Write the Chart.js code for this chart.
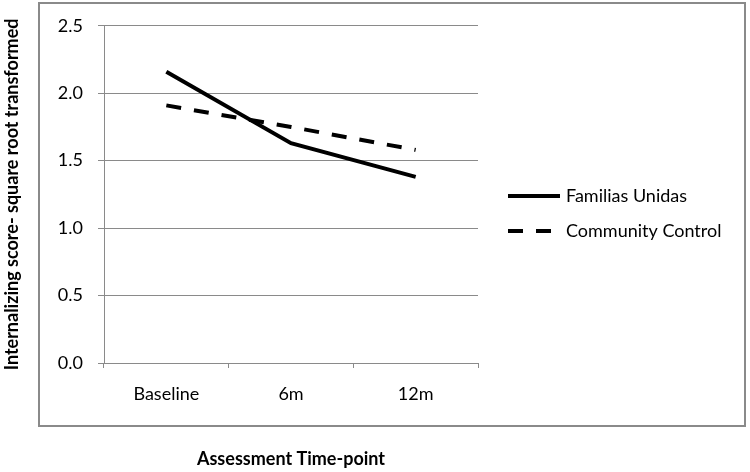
<!DOCTYPE html>
<html>
<head>
<meta charset="utf-8">
<script src="https://cdn.jsdelivr.net/npm/chart.js@4"></script>
<style>
  body { margin: 0; background: #fff; }
</style>
</head>
<body>
<canvas id="chart" width="750" height="472"></canvas>
<script>
// values
const timepoints = ["Baseline", "6m", "12m"];
const familias_unidas = [2.16, 1.63, 1.38];
const community_control = [1.91, 1.75, 1.58];
const y_ticks = [0, 0.5, 1, 1.5, 2, 2.5];

const grey = "#8a8a8a";
const font_family = "Lato, 'Open Sans', sans-serif";

// grey frame around the plot + legend (Excel chart area)
const frame = {
  id: "frame",
  beforeDraw(chart) {
    const ctx = chart.ctx;
    ctx.save();
    ctx.fillStyle = "#fff";
    ctx.fillRect(0, 0, chart.width, chart.height);
    ctx.strokeStyle = grey;
    ctx.lineWidth = 2;
    ctx.strokeRect(39, 3, 706, 423);
    ctx.restore();
  },
};

// legend drawn to the right, styled from the datasets
const side_legend = {
  id: "side_legend",
  afterDraw(chart) {
    const ctx = chart.ctx;
    ctx.save();
    chart.data.datasets.forEach((ds, i) => {
      const y = 196 + i * 35;
      ctx.strokeStyle = ds.borderColor;
      ctx.lineWidth = ds.borderWidth;
      ctx.setLineDash(ds.borderDash || []);
      ctx.beginPath();
      ctx.moveTo(508, y);
      ctx.lineTo(560, y);
      ctx.stroke();
      ctx.setLineDash([]);
      ctx.fillStyle = "#000";
      ctx.font = "18px " + font_family;
      ctx.textBaseline = "middle";
      ctx.fillText(ds.label, 566, y);
    });
    ctx.restore();
  },
};

new Chart(document.getElementById("chart"), {
  type: "line",
  data: {
    labels: timepoints,
    datasets: [
      {
        label: "Familias Unidas",
        data: familias_unidas,
        borderColor: "#000",
        borderWidth: 4,
        pointRadius: 0,
        tension: 0,
      },
      {
        label: "Community Control",
        data: community_control,
        borderColor: "#000",
        borderWidth: 4,
        borderDash: [15, 13],
        pointRadius: 0,
        tension: 0,
      },
    ],
  },
  options: {
    responsive: false,
    animation: false,
    layout: { padding: { left: 0, top: 23, right: 272, bottom: 2 } },
    plugins: {
      legend: { display: false },
      tooltip: { enabled: false },
    },
    scales: {
      x: {
        offset: true,
        grid: {
          offset: true,
          drawOnChartArea: false,
          color: grey,
          tickLength: 5,
        },
        border: { color: grey, width: 1 },
        ticks: {
          padding: 15,
          color: "#000",
          font: { family: font_family, size: 18 },
        },
        title: {
          display: true,
          text: "Assessment Time-point",
          color: "#000",
          font: { family: font_family, size: 18, weight: "bold" },
          padding: { top: 0, bottom: 0 },
        },
        afterFit: (s) => {
          s.height = 107;
        },
      },
      y: {
        min: 0,
        max: 2.5,
        afterBuildTicks: (s) => {
          s.ticks = y_ticks.map((v) => ({ value: v }));
        },
        grid: { color: grey, tickLength: 6 },
        border: { color: grey, width: 1 },
        ticks: {
          padding: 15,
          color: "#000",
          font: { family: font_family, size: 18 },
          callback: (v) => Number(v).toFixed(1),
        },
        title: {
          display: true,
          text: "Internalizing score- square root transformed",
          color: "#000",
          font: { family: font_family, size: 18, weight: "bold" },
          padding: { top: 1, bottom: 0 },
        },
        afterFit: (s) => {
          s.width = 104;
        },
      },
    },
  },
  plugins: [frame, side_legend],
});
</script>
</body>
</html>
